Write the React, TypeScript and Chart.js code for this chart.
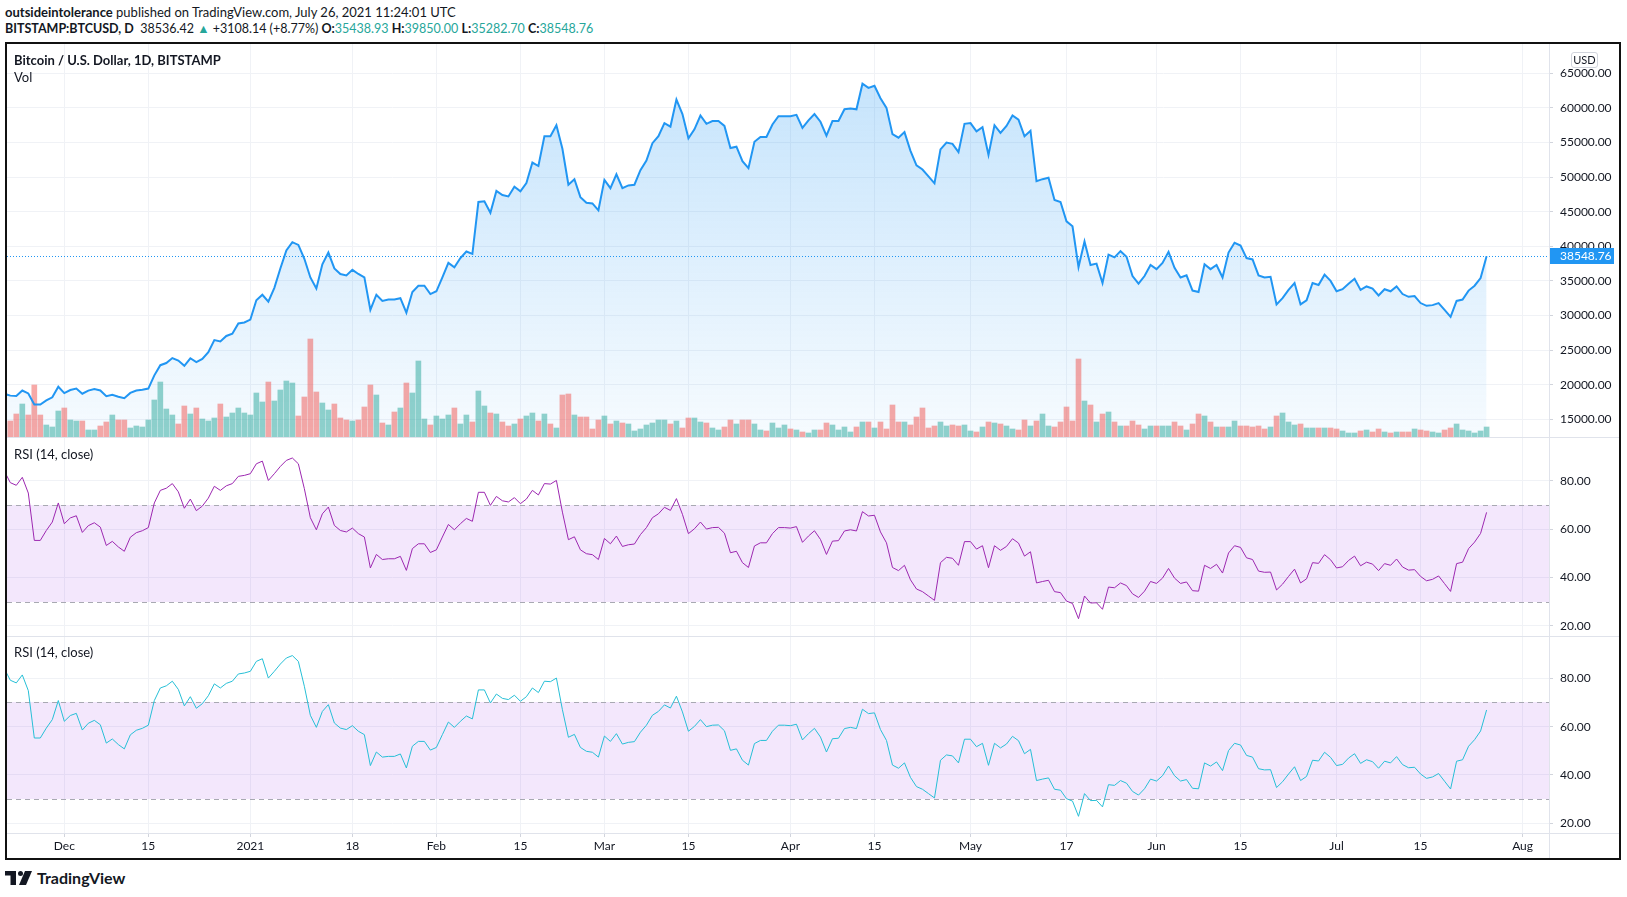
import React, { useEffect, useRef } from "react";
import { Chart, registerables } from "chart.js";

Chart.register(...registerables);

const FONT = "Lato, 'Noto Sans', sans-serif";
Chart.defaults.font.family = FONT;

// Day index 0 = 22 Nov 2020; the series starts one day earlier (21 Nov 2020 = index -1)
const FIRST_DAY = -1;

// Daily close, BITSTAMP:BTCUSD (USD)
const CLOSE: number[] = [
  18680,
  // Nov 22 - Nov 30
  18420, 18370, 19160, 18740, 17150, 17140, 17720, 18180, 19700,
  // Dec
  18790, 19230, 19450, 18700, 19150, 19370, 19170, 18330, 18550, 18260,
  18040, 18810, 19150, 19270, 19440, 21350, 22820, 23130, 23850, 23480,
  22730, 23820, 23250, 23720, 24700, 26450, 26250, 27040, 27370, 28860,
  28990,
  // Jan
  29400, 32200, 33000, 32000, 34000, 36800, 39400, 40600, 40200, 38200,
  35500, 33900, 37400, 39100, 36800, 36000, 35800, 36600, 36000, 35500,
  30800, 33000, 32100, 32300, 32300, 32500, 30400, 33400, 34300, 34300,
  33100,
  // Feb
  33500, 35500, 37600, 36950, 38300, 39250, 38900, 46400, 46500, 44850,
  48000, 47400, 47200, 48600, 47950, 49150, 52100, 51600, 55900, 55900,
  57500, 54100, 48900, 49700, 47100, 46300, 46200, 45200,
  // Mar
  49600, 48400, 50400, 48400, 48800, 48900, 51000, 52400, 54900, 55900,
  57800, 57300, 61200, 59100, 55600, 56900, 58900, 57700, 58100, 58100,
  57400, 54200, 54400, 52300, 51300, 55100, 55800, 55800, 57600, 58800,
  58800,
  // Apr
  58800, 59000, 57100, 58200, 59100, 58000, 56000, 58100, 58100, 59800,
  59900, 59800, 63500, 62900, 63200, 61400, 60000, 56200, 55700, 56500,
  53800, 51700, 51100, 50100, 49100, 54000, 55000, 54800, 53600, 57700,
  // May
  57800, 56600, 57200, 53200, 57500, 56400, 57400, 58900, 58300, 55900,
  56700, 49400, 49700, 49900, 46700, 46400, 43600, 42900, 37000, 40700,
  37300, 37500, 34700, 38800, 38400, 39300, 38500, 35700, 34600, 35700,
  37300,
  // Jun
  36700, 37600, 39200, 36900, 35500, 35800, 33600, 33400, 37400, 36700,
  37300, 35500, 39100, 40500, 40100, 38300, 38100, 35800, 35500, 35600,
  31600, 32500, 33700, 34700, 31600, 32200, 34700, 34400, 35900, 35000,
  // Jul 1 - Jul 26
  33500, 33800, 34600, 35300, 33700, 34200, 33900, 32900, 33800, 33500,
  34200, 33100, 32700, 32800, 31800, 31400, 31500, 31800, 30800, 29800,
  32100, 32300, 33600, 34300, 35400, 38548.76,
];

// Daily volume (relative units, thousand BTC-ish)
const VOLUME: number[] = [
  14,
  16, 23, 33, 22, 52, 22, 12, 10, 26, 29,
  17, 16, 16, 7, 7, 11, 15, 22, 17, 17,
  9, 11, 10, 17, 37, 55, 28, 22, 13, 31,
  23, 29, 18, 16, 19, 33, 20, 24, 29, 24,
  22, 44, 35, 55, 36, 47, 56, 54, 21, 40,
  98, 45, 34, 27, 33, 19, 17, 16, 17, 30,
  52, 42, 14, 12, 25, 29, 54, 44, 76, 18,
  12, 21, 18, 22, 29, 13, 22, 15, 46, 31,
  24, 23, 15, 11, 13, 18, 21, 24, 16, 23,
  13, 9, 42, 43, 22, 20, 20, 8, 17, 21,
  13, 16, 14, 13, 6, 8, 12, 14, 17, 17,
  13, 16, 9, 19, 19, 15, 14, 9, 7, 10,
  17, 13, 17, 17, 13, 7, 6, 14, 9, 12,
  8, 7, 5, 4, 7, 7, 14, 12, 7, 10,
  5, 10, 15, 15, 9, 15, 8, 32, 15, 15,
  12, 20, 29, 9, 11, 15, 11, 12, 11, 12,
  6, 5, 10, 15, 14, 13, 11, 8, 7, 17,
  11, 16, 23, 11, 10, 15, 30, 16, 78, 36,
  32, 15, 23, 25, 15, 11, 11, 16, 12, 8,
  11, 11, 11, 11, 15, 11, 7, 13, 23, 21,
  15, 10, 10, 10, 16, 11, 11, 10, 11, 8,
  10, 21, 24, 15, 12, 13, 9, 9, 9, 9,
  9, 8, 6, 4, 4, 6, 7, 5, 8, 5,
  4, 5, 5, 5, 8, 7, 6, 5, 4, 7,
  9, 13, 7, 6, 4, 6, 10,
];

// U = up bar, D = down bar
const VOLUME_DIR: string = [
  "U",
  "DDUDDDUUUD", "UUDUUDDUDD", "UUUUUUUUDD", "UDUUUDUUUU", "UUUDUUUUDD",
  "DDUUDDDUDD", "DUDUDUDUUU", "DUUUDUUDUU", "DUDDUDUUDU", "DUDDUDDDDU",
  "DUDUUUUUUU", "DUDDUUDUUD", "DUDDUUDUUU", "DUDUUDDUUU", "UDUDUDDDDU",
  "DDDDDUUDDU", "UDUDUDUUDD", "UDUUDDDDDU", "DUDUDUDDDU", "UDUUDDUDDU",
  "DUDUUDDDDD", "UDUUUDUUDU", "DDUUUDUDDU", "DUDDUDDUUD", "DUUUUUU",
].join("");

// RSI (14, close)
const RSI: number[] = [
  84,
  79.2, 78.1, 81.4, 74.9, 55.3, 55.3, 59.4, 62.9, 70.8, 62.2,
  64.6, 65.5, 58.6, 61.4, 62.6, 60.8, 53.2, 54.9, 52.6, 50.8,
  56.6, 58.5, 59.3, 60.6, 70.8, 76.0, 76.9, 78.8, 75.4, 68.6,
  72.4, 67.6, 69.5, 72.8, 77.7, 76.0, 77.9, 78.8, 81.8, 82.2,
  82.9, 87.0, 88.1, 80.1, 82.9, 85.9, 88.4, 89.4, 87.0, 76.7,
  64.7, 59.7, 66.3, 69.1, 61.5, 59.4, 58.8, 60.4, 58.1, 56.7,
  43.9, 49.5, 47.4, 47.7, 47.7, 48.7, 42.9, 51.9, 53.9, 53.9,
  50.3, 51.4, 56.7, 61.9, 59.7, 62.2, 64.4, 63.2, 75.2, 75.2,
  69.8, 73.5, 71.7, 71.2, 73.0, 70.5, 72.4, 76.0, 74.1, 78.8,
  78.6, 80.1, 67.0, 55.6, 56.8, 51.4, 49.8, 49.4, 47.4, 56.1,
  53.9, 57.1, 52.8, 53.5, 53.8, 57.7, 60.6, 64.7, 66.3, 69.0,
  67.7, 72.6, 66.1, 58.1, 60.1, 62.9, 60.0, 60.6, 60.7, 58.3,
  50.2, 50.8, 46.1, 44.1, 53.0, 54.3, 54.3, 58.1, 60.6, 60.6,
  60.4, 61.0, 54.5, 57.1, 59.3, 55.7, 49.5, 55.0, 55.2, 59.2,
  59.7, 59.2, 67.2, 65.4, 65.7, 58.8, 54.3, 44.1, 42.8, 45.0,
  39.0, 35.2, 34.1, 32.3, 30.5, 46.1, 48.3, 47.9, 45.0, 54.8,
  54.8, 51.7, 53.1, 44.0, 53.1, 51.2, 52.8, 56.0, 54.2, 48.8,
  50.6, 37.7, 38.3, 38.8, 34.1, 33.7, 30.2, 29.2, 22.9, 32.3,
  29.4, 29.5, 26.8, 36.0, 35.7, 37.7, 36.6, 33.2, 31.7, 34.3,
  38.3, 37.5, 39.7, 43.7, 39.7, 37.5, 38.1, 34.5, 34.3, 45.0,
  43.7, 45.4, 41.8, 50.1, 53.1, 52.4, 48.1, 47.4, 42.6, 42.1,
  42.2, 34.8, 37.2, 40.4, 43.4, 37.7, 39.4, 46.1, 45.8, 49.4,
  47.3, 43.9, 44.4, 47.0, 48.8, 44.8, 46.3, 45.5, 42.8, 45.7,
  45.0, 47.6, 44.3, 43.0, 43.2, 40.4, 38.6, 39.2, 40.6, 37.4,
  34.2, 45.7, 46.3, 51.9, 54.6, 58.2, 66.9,
];

const PRICE_TICKS = [15000, 20000, 25000, 30000, 35000, 40000, 45000, 50000, 55000, 60000, 65000];
const RSI_TICKS = [20, 40, 60, 80];
const RSI_BANDS = [30, 70];
const TIME_TICK_DAYS = [9, 23, 40, 57, 71, 85, 99, 113, 130, 144, 160, 176, 191, 205, 221, 235, 252];
const TIME_TICK_LABELS = ["Dec", "15", "2021", "18", "Feb", "15", "Mar", "15", "Apr", "15", "May", "17", "Jun", "15", "Jul", "15", "Aug"];
const LAST_PRICE = CLOSE[CLOSE.length - 1];

// axis ranges (calibrated to the screenshot)
const X_MIN = -0.55;
const X_MAX = 256.4;
const PRICE_MIN = 12442;
const PRICE_MAX = 69234;
const VOL_MAX = 393;
const RSI1_RANGE = [15.75, 97.67];
const RSI2_RANGE = [16.0, 97.09];

const DAYS = CLOSE.map((_, i) => FIRST_DAY + i);

const TEXT = "#131722";
const GRID = "#f0f2f6";
const TICK_MARK = "#d1d4dc";
const SEP = "#e0e3eb";
const TEAL = "#26a69a";

function timeScale(showLabels: boolean): any {
  return {
    type: "linear",
    min: X_MIN,
    max: X_MAX,
    offset: false,
    bounds: "data",
    afterBuildTicks: (s: any) => {
      s.ticks = TIME_TICK_DAYS.map((v) => ({ value: v }));
    },
    afterFit: (s: any) => {
      s.height = showLabels ? 25 : 0;
      s.paddingLeft = 0;
      s.paddingRight = 0;
    },
    grid: { color: GRID, drawTicks: showLabels, tickLength: 4, tickColor: TICK_MARK, lineWidth: 1, offset: false },
    border: { display: false },
    ticks: {
      display: showLabels,
      autoSkip: false,
      maxRotation: 0,
      padding: 2,
      color: TEXT,
      font: { family: FONT, size: 12 },
      callback: (v: any) => {
        const i = TIME_TICK_DAYS.indexOf(Number(v));
        return i >= 0 ? TIME_TICK_LABELS[i] : "";
      },
    },
  };
}

function valueScale(min: number, max: number, ticks: number[]): any {
  return {
    position: "right",
    min,
    max,
    afterBuildTicks: (s: any) => {
      s.ticks = ticks.map((v) => ({ value: v }));
    },
    afterFit: (s: any) => {
      s.width = 70;
      s.paddingTop = 0;
      s.paddingBottom = 0;
    },
    grid: { color: GRID, tickLength: 4, tickColor: TICK_MARK },
    border: { display: false },
    ticks: {
      autoSkip: false,
      padding: 7,
      color: TEXT,
      font: { family: FONT, size: 12 },
      callback: (v: any) => Number(v).toFixed(2),
    },
  };
}

function makePriceChart(canvas: HTMLCanvasElement) {
  const lastPricePlugin = {
    id: "lastPrice",
    afterDatasetsDraw(chart: any) {
      const { ctx, chartArea: a } = chart;
      const y = Math.round(chart.scales.y.getPixelForValue(LAST_PRICE)) + 0.5;
      ctx.save();
      ctx.strokeStyle = "#2196f3";
      ctx.lineWidth = 1;
      ctx.setLineDash([1, 2]);
      ctx.beginPath();
      ctx.moveTo(a.left, y);
      ctx.lineTo(a.right, y);
      ctx.stroke();
      ctx.restore();
    },
    afterDraw(chart: any) {
      const { ctx, chartArea: a } = chart;
      const y = chart.scales.y.getPixelForValue(LAST_PRICE);
      ctx.save();
      ctx.fillStyle = "#2196f3";
      ctx.fillRect(a.right + 1, Math.round(y) - 8, 64, 16);
      ctx.fillStyle = "#ffffff";
      ctx.font = `12px ${FONT}`;
      ctx.textBaseline = "middle";
      ctx.textAlign = "left";
      ctx.fillText(LAST_PRICE.toFixed(2), a.right + 11, Math.round(y) + 0.5);
      ctx.restore();
    },
  };

  return new Chart(canvas, {
    type: "line",
    data: {
      datasets: [
        {
          type: "line",
          data: DAYS.map((d, i) => ({ x: d, y: CLOSE[i] })),
          borderColor: "#2196f3",
          borderWidth: 2,
          pointRadius: 0,
          tension: 0,
          fill: "start",
          backgroundColor: (c: any) => {
            const area = c.chart.chartArea;
            if (!area) return "rgba(33,150,243,0.15)";
            const g = c.chart.ctx.createLinearGradient(0, area.top, 0, area.bottom);
            g.addColorStop(0, "rgba(33,150,243,0.28)");
            g.addColorStop(1, "rgba(33,150,243,0.04)");
            return g;
          },
          yAxisID: "y",
          order: 0,
        } as any,
        {
          type: "bar",
          data: DAYS.map((d, i) => ({ x: d, y: VOLUME[i] })),
          backgroundColor: DAYS.map((_, i) =>
            VOLUME_DIR[i] === "U" ? "rgba(38,166,154,0.5)" : "rgba(239,83,80,0.5)"
          ),
          barThickness: 5,
          yAxisID: "yv",
          order: 1,
        } as any,
      ],
    },
    options: {
      responsive: false,
      animation: false,
      devicePixelRatio: 1,
      events: [],
      layout: { padding: 0, autoPadding: false },
      plugins: {
        legend: { display: false },
        tooltip: { enabled: false },
        filler: { drawTime: "beforeDatasetsDraw" },
      } as any,
      scales: {
        x: timeScale(false),
        y: valueScale(PRICE_MIN, PRICE_MAX, PRICE_TICKS),
        yv: { display: false, min: 0, max: VOL_MAX, position: "right" },
      },
    },
    plugins: [lastPricePlugin],
  });
}

function makeRsiChart(canvas: HTMLCanvasElement, color: string, range: number[], showTime: boolean) {
  const bandPlugin = {
    id: "rsiBand",
    beforeDatasetsDraw(chart: any) {
      const { ctx, chartArea: a } = chart;
      const y = chart.scales.y;
      const yTop = Math.round(y.getPixelForValue(RSI_BANDS[1]));
      const yBot = Math.round(y.getPixelForValue(RSI_BANDS[0]));
      ctx.save();
      ctx.fillStyle = "rgba(149,40,230,0.11)";
      ctx.fillRect(a.left, yTop, a.right - a.left, yBot - yTop);
      ctx.strokeStyle = "#a8a9b2";
      ctx.lineWidth = 1;
      ctx.setLineDash([5, 4]);
      [yTop, yBot].forEach((py) => {
        ctx.beginPath();
        ctx.moveTo(a.left, py + 0.5);
        ctx.lineTo(a.right, py + 0.5);
        ctx.stroke();
      });
      ctx.restore();
    },
  };

  return new Chart(canvas, {
    type: "line",
    data: {
      datasets: [
        {
          data: DAYS.map((d, i) => ({ x: d, y: RSI[i] })),
          borderColor: color,
          borderWidth: 1,
          pointRadius: 0,
          tension: 0,
          fill: false,
        },
      ],
    },
    options: {
      responsive: false,
      animation: false,
      devicePixelRatio: 1,
      events: [],
      layout: { padding: 0, autoPadding: false },
      plugins: { legend: { display: false }, tooltip: { enabled: false } },
      scales: {
        x: timeScale(showTime),
        y: valueScale(range[0], range[1], RSI_TICKS),
      },
    },
    plugins: [bandPlugin],
  });
}

const abs = (left: number, top: number, extra: React.CSSProperties = {}): React.CSSProperties => ({
  position: "absolute",
  left,
  top,
  ...extra,
});

export default function App() {
  const priceRef = useRef<HTMLCanvasElement>(null);
  const rsi1Ref = useRef<HTMLCanvasElement>(null);
  const rsi2Ref = useRef<HTMLCanvasElement>(null);

  useEffect(() => {
    document.body.style.margin = "0";
    const charts = [
      makePriceChart(priceRef.current!),
      makeRsiChart(rsi1Ref.current!, "#9c27b0", RSI1_RANGE, false),
      makeRsiChart(rsi2Ref.current!, "#26bfd6", RSI2_RANGE, true),
    ];
    return () => charts.forEach((c) => c.destroy());
  }, []);

  const text: React.CSSProperties = { fontFamily: FONT, color: TEXT, whiteSpace: "nowrap", lineHeight: "16px" };

  return (
    <div style={{ position: "absolute", left: 0, top: 0, width: 1627, height: 897, background: "#fff", overflow: "hidden" }}>
      {/* header */}
      <div style={abs(5, 4, { ...text, fontSize: 13 })}>
        <b>outsideintolerance</b> published on TradingView.com, July 26, 2021 11:24:01 UTC
      </div>
      <div style={abs(5, 21, { ...text, fontSize: 12.5 })}>
        <b>BITSTAMP:BTCUSD, D</b>&nbsp; 38536.42 <span style={{ color: TEAL }}>▲</span> +3108.14 (+8.77%){" "}
        <b>O:</b><span style={{ color: TEAL }}>35438.93</span> <b>H:</b><span style={{ color: TEAL }}>39850.00</span>{" "}
        <b>L:</b><span style={{ color: TEAL }}>35282.70</span> <b>C:</b><span style={{ color: TEAL }}>38548.76</span>
      </div>

      {/* frame */}
      <div style={abs(5, 42, { width: 1616, height: 818, border: "2px solid #111", boxSizing: "border-box" })} />

      <canvas ref={priceRef} width={1612} height={393} style={abs(7, 44, { width: 1612, height: 393 })} />
      <canvas ref={rsi1Ref} width={1612} height={198} style={abs(7, 438, { width: 1612, height: 198 })} />
      <canvas ref={rsi2Ref} width={1612} height={221} style={abs(7, 637, { width: 1612, height: 221 })} />

      {/* pane separators */}
      <div style={abs(7, 437, { width: 1612, height: 1, background: SEP })} />
      <div style={abs(7, 636, { width: 1612, height: 1, background: SEP })} />
      <div style={abs(7, 833, { width: 1612, height: 1, background: SEP })} />
      <div style={abs(1549, 44, { width: 1, height: 814, background: SEP })} />

      {/* pane titles */}
      <div style={abs(14, 52, { ...text, fontSize: 13, fontWeight: 700 })}>Bitcoin / U.S. Dollar, 1D, BITSTAMP</div>
      <div style={abs(14, 69, { ...text, fontSize: 13 })}>Vol</div>
      <div style={abs(14, 446, { ...text, fontSize: 13 })}>RSI (14, close)</div>
      <div style={abs(14, 644, { ...text, fontSize: 13 })}>RSI (14, close)</div>

      {/* currency badge */}
      <div
        style={abs(1571, 52, {
          width: 27,
          height: 16,
          border: "1px solid #d1d4dc",
          borderRadius: 3,
          boxSizing: "border-box",
          fontFamily: FONT,
          fontSize: 11,
          lineHeight: "14px",
          textAlign: "center",
          color: TEXT,
        })}
      >
        USD
      </div>

      {/* footer logo */}
      <svg style={abs(5, 871)} width={28} height={14} viewBox="0 0 28 14">
        <rect x={0} y={0} width={11} height={4.5} fill="#131722" />
        <rect x={5.5} y={0} width={5.5} height={14} fill="#131722" />
        <circle cx={15.5} cy={2.5} r={2.5} fill="#131722" />
        <polygon points="20,0 27,0 21,14 14,14" fill="#131722" />
      </svg>
      <div style={abs(37, 868, { ...text, fontSize: 16, fontWeight: 700, lineHeight: "20px" })}>TradingView</div>
    </div>
  );
}
